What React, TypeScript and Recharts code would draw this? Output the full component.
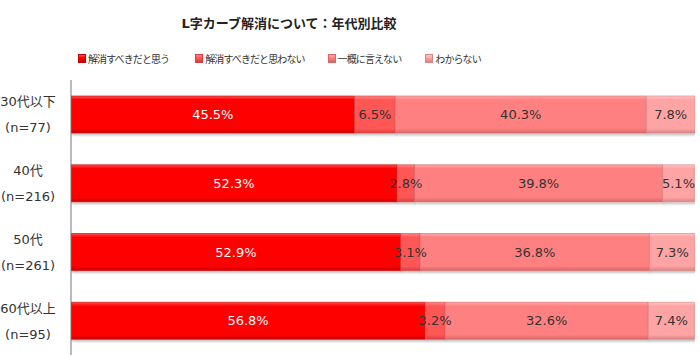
import React from "react";
import { BarChart, Bar, XAxis, YAxis, Legend, LabelList } from "recharts";

const title = "L字カーブ解消について：年代別比較";
const categories = ["30代以下", "40代", "50代", "60代以上"];
const sampleSizes = ["(n=77)", "(n=216)", "(n=261)", "(n=95)"];
const seriesNames = ["解消すべきだと思う", "解消すべきだと思わない", "一概に言えない", "わからない"];
const shouldResolve = [45.5, 52.3, 52.9, 56.8];
const shouldNotResolve = [6.5, 2.8, 3.1, 3.2];
const cannotSay = [40.3, 39.8, 36.8, 32.6];
const dontKnow = [7.8, 5.1, 7.3, 7.4];

const colors = ["#ff0000", "#ff5757", "#ff8080", "#ffa4a4"];
const darker = ["#c80000", "#d84040", "#d86565", "#d88585"];
const lighter = ["#ff5050", "#ff8888", "#ffaaaa", "#ffc4c4"];
const labelColors = ["#ffffff", "#333333", "#333333", "#333333"];
const keys = ["s1", "s2", "s3", "s4"];
const legendGaps = [26, 23, 24, 0];

const data = categories.map((c, i) => ({
  name: c,
  s1: shouldResolve[i],
  s2: shouldNotResolve[i],
  s3: cannotSay[i],
  s4: dontKnow[i],
}));

const FONT = '"DejaVu Sans", "Noto Sans CJK JP", sans-serif';

const CategoryTick = (props: any) => {
  const { y, payload, index } = props;
  return (
    <g>
      <text x={28} y={y - 8} textAnchor="middle" fontSize={13} fill="#333" fontFamily={FONT}>
        {payload.value}
      </text>
      <text x={28} y={y + 18} textAnchor="middle" fontSize={13} fill="#333" fontFamily={FONT}>
        {sampleSizes[index]}
      </text>
    </g>
  );
};

const LegendContent = () => (
  <div style={{ display: "flex", paddingLeft: 78, fontFamily: FONT, fontSize: 10, letterSpacing: -0.9, color: "#333", alignItems: "center" }}>
    {seriesNames.map((n, i) => (
      <div key={n} style={{ display: "flex", alignItems: "center", marginRight: legendGaps[i] }}>
        <div
          style={{
            width: 6,
            height: 7,
            background: `linear-gradient(${lighter[i]}, ${colors[i]} 40%, ${darker[i]})`,
            border: `0.5px solid ${darker[i]}`,
            marginRight: 2,
          }}
        />
        <span>{n}</span>
      </div>
    ))}
  </div>
);

export default function App() {
  return (
    <div style={{ position: "absolute", left: 0, top: 0, width: 700, height: 359, background: "#fff" }}>
      <div
        style={{
          position: "absolute",
          left: 16,
          top: 13,
          width: 546,
          textAlign: "center",
          fontFamily: FONT,
          fontWeight: "bold",
          fontSize: 13,
          color: "#222",
          zIndex: 2,
        }}
      >
        {title}
      </div>
      <BarChart
        width={700}
        height={359}
        data={data}
        layout="vertical"
        margin={{ top: 80, right: 5, bottom: 4, left: 0 }}
        barSize={37}
      >
        <defs>
          {colors.map((c, i) => (
            <linearGradient key={i} id={`g${i}`} x1="0" y1="0" x2="0" y2="1">
              <stop offset="0%" stopColor={lighter[i]} />
              <stop offset="10%" stopColor={c} />
              <stop offset="88%" stopColor={c} />
              <stop offset="100%" stopColor={darker[i]} />
            </linearGradient>
          ))}
          <filter id="shadow" x="-5%" y="-20%" width="110%" height="150%">
            <feDropShadow dx="1" dy="2" stdDeviation="1.2" floodColor="#000" floodOpacity="0.25" />
          </filter>
        </defs>
        <XAxis type="number" domain={[0, 100.1]} hide allowDataOverflow />
        <YAxis
          type="category"
          dataKey="name"
          width={71}
          tickLine={false}
          axisLine={{ stroke: "#777", strokeWidth: 1 }}
          tick={<CategoryTick />}
          interval={0}
        />
        <Legend
          verticalAlign="middle"
          align="center"
          content={<LegendContent />}
          wrapperStyle={{ top: 51, left: 0, width: 700 }}
        />
        {keys.map((k, i) => (
          <Bar
            key={k}
            dataKey={k}
            name={seriesNames[i]}
            stackId="a"
            fill={`url(#g${i})`}
            stroke={darker[i]}
            strokeWidth={0.6}
            filter="url(#shadow)"
            isAnimationActive={false}
          >
            <LabelList
              dataKey={k}
              position="center"
              formatter={(v: any) => `${Number(v).toFixed(1)}%`}
              fill={labelColors[i]}
              fontSize={13}
              fontFamily={FONT}
            />
          </Bar>
        ))}
      </BarChart>
    </div>
  );
}
